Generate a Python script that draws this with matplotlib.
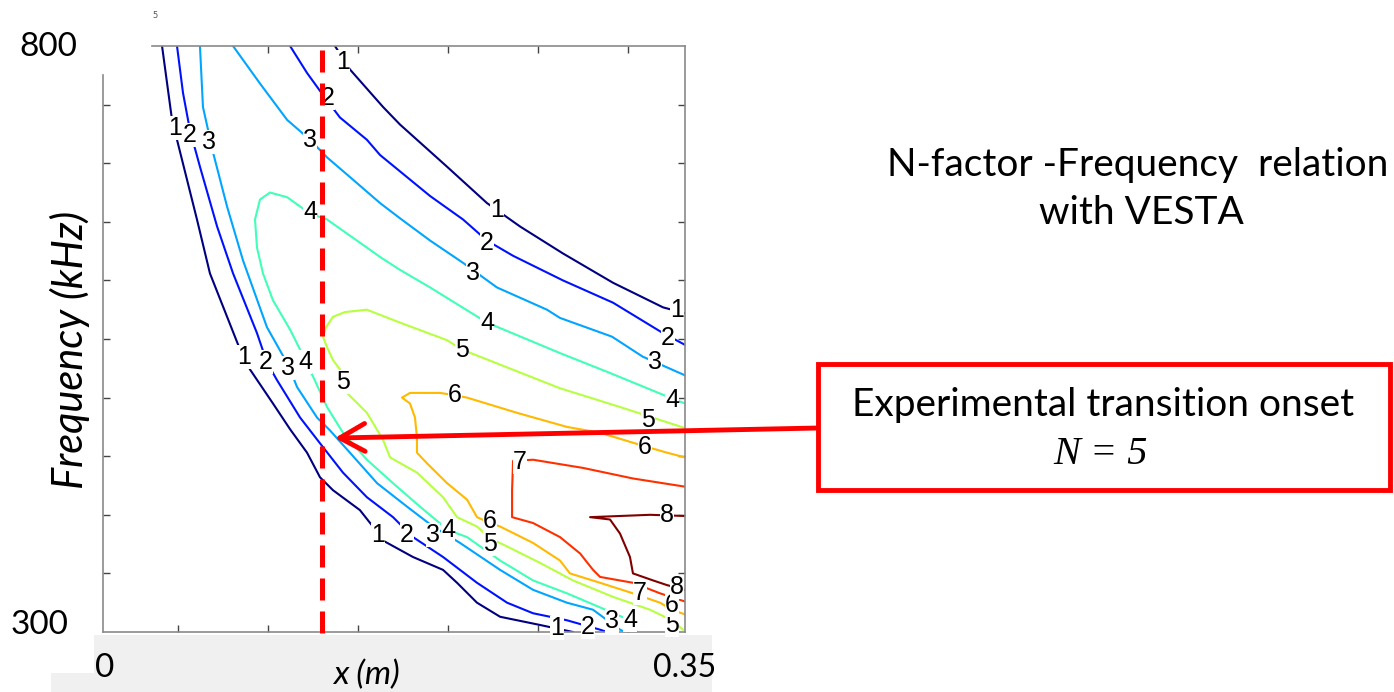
import numpy as np
import matplotlib
matplotlib.use('Agg')
import matplotlib.pyplot as plt
from matplotlib.patches import Rectangle
from matplotlib.colors import Normalize

# N-factor iso-lines: x in m, frequency in kHz
n1_low_x = [0.0355, 0.0415, 0.0565, 0.0643, 0.0824, 0.0884, 0.1022, 0.1125, 0.1227, 0.1305, 0.1383,
            0.1545, 0.1623, 0.1684, 0.1864, 0.2045, 0.2129, 0.2249, 0.2388, 0.2628, 0.2826]
n1_low_f = [800, 737, 652, 606, 541, 524, 495, 473, 453, 432, 421, 404, 390, 378, 364, 353, 342, 325, 313, 306, 300]
n1_up_x = [0.1395, 0.1485, 0.1684, 0.1786, 0.2069, 0.2309, 0.2508, 0.2766, 0.3067, 0.3368, 0.35]
n1_up_f = [800, 780, 748, 733, 697, 666, 646, 623, 598, 577, 572]

n2_low_x = [0.0445, 0.0481, 0.0523, 0.0583, 0.0686, 0.0782, 0.0926, 0.0986, 0.1046, 0.1185, 0.1305,
            0.1443, 0.1587, 0.1744, 0.1864, 0.2045, 0.2249, 0.2430, 0.2586, 0.2790, 0.2989, 0.3031]
n2_low_f = [800, 760, 728, 697, 646, 606, 555, 530, 515, 483, 461, 436, 415, 398, 381, 364, 342, 325, 316, 310, 302, 300]
n2_up_x = [0.1125, 0.1227, 0.1334, 0.1425, 0.1587, 0.1666, 0.1967, 0.2165, 0.2309, 0.2466, 0.2766,
           0.3067, 0.3368, 0.35]
n2_up_f = [800, 777, 756, 739, 720, 707, 672, 652, 634, 621, 600, 581, 555, 545]

n3_low_x = [0.0583, 0.0601, 0.0662, 0.0746, 0.0842, 0.0986, 0.1113, 0.1167, 0.1287, 0.1365, 0.1485,
            0.1648, 0.1828, 0.1985, 0.2147, 0.2388, 0.2586, 0.2790, 0.2947, 0.3109, 0.3140]
n3_low_f = [800, 748, 709, 663, 617, 560, 528, 509, 483, 472, 453, 427, 407, 390, 376, 353, 336, 325, 319, 302, 300]
n3_up_x = [0.0782, 0.0944, 0.1107, 0.1245, 0.1347, 0.1503, 0.1666, 0.1786, 0.1967, 0.2165, 0.2369,
           0.2670, 0.2748, 0.3061, 0.3245, 0.35]
n3_up_f = [800, 768, 737, 720, 705, 686, 666, 653, 634, 615, 594, 575, 568, 552, 535, 519]

n4_x = [0.35, 0.3392, 0.3049, 0.2748, 0.2309, 0.1967, 0.1786, 0.1666, 0.1587, 0.1347, 0.1245, 0.1107,
        0.1004, 0.0944, 0.0914, 0.0926, 0.0962, 0.1022, 0.1125, 0.1185, 0.1215, 0.1263, 0.1347, 0.1443,
        0.1587, 0.1744, 0.1906, 0.2075, 0.2189, 0.2388, 0.2586, 0.2790, 0.2989, 0.3169, 0.3211]
n4_f = [495, 501, 521, 538, 564, 594, 609, 620, 628, 652, 657, 671, 675, 669, 652, 628, 606, 583, 558, 541,
        530, 518, 492, 470, 447, 427, 407, 387, 381, 361, 344, 333, 321, 310, 300]

n5_x = [0.35, 0.3109, 0.2748, 0.2158, 0.2069, 0.1786, 0.1587, 0.1455, 0.1383, 0.1341, 0.1323, 0.1347,
        0.1383, 0.1425, 0.1443, 0.1467, 0.1587, 0.1684, 0.1726, 0.1888, 0.2045, 0.2129, 0.2249, 0.2327,
        0.2430, 0.2628, 0.2826, 0.3067, 0.3290, 0.3420, 0.3488]
n5_f = [474, 492, 508, 541, 549, 564, 575, 573, 569, 560, 552, 543, 532, 524, 513, 504, 487, 464, 449, 436,
        415, 398, 390, 380, 373, 359, 344, 330, 319, 310, 302]

n6_x = [0.35, 0.3392, 0.3269, 0.2989, 0.2790, 0.2490, 0.2189, 0.2117, 0.2027, 0.1846, 0.1798, 0.1846,
        0.1876, 0.1888, 0.1888, 0.1948, 0.2069, 0.2189, 0.2249, 0.2327, 0.2388, 0.2586, 0.2748, 0.2808,
        0.2989, 0.3187, 0.3350, 0.3420, 0.35]
n6_f = [449, 453, 458, 470, 475, 487, 500, 502, 504, 504, 500, 495, 483, 466, 453, 444, 427, 413, 398, 393,
        390, 376, 361, 350, 342, 333, 325, 319, 315]

n7_x = [0.35, 0.3187, 0.2887, 0.2586, 0.2466, 0.2460, 0.2460, 0.2586, 0.2748, 0.2869, 0.2947, 0.2989,
        0.3187, 0.3350, 0.35]
n7_f = [424, 431, 440, 447, 446, 421, 398, 393, 381, 367, 353, 347, 342, 333, 326]

n8_x = [0.35, 0.3290, 0.2929, 0.3049, 0.3109, 0.3169, 0.3187, 0.3308, 0.3392, 0.35]
n8_f = [399, 400, 398, 396, 384, 364, 350, 344, 340, 336]

# inline contour labels
label_n = [1, 1, 1, 1, 1, 1, 1,
           2, 2, 2, 2, 2, 2, 2,
           3, 3, 3, 3, 3, 3, 3,
           4, 4, 4, 4, 4, 4,
           5, 5, 5, 5, 5,
           6, 6, 6, 6,
           7, 7,
           8, 8]
label_x = [0.0433, 0.0848, 0.1654, 0.2730, 0.1443, 0.2369, 0.3452,
           0.0523, 0.0980, 0.1828, 0.2917, 0.1353, 0.2309, 0.3398,
           0.0637, 0.1113, 0.1985, 0.3061, 0.1245, 0.2225, 0.3320,
           0.1215, 0.2075, 0.3169, 0.1245, 0.2309, 0.3422,
           0.1443, 0.2327, 0.3420, 0.2159, 0.3277,
           0.2327, 0.3420, 0.2117, 0.3259,
           0.2508, 0.3229,
           0.3392, 0.3452]
label_f = [730, 535, 383, 303, 786, 660, 575,
           724, 530, 383, 304, 756, 632, 551,
           718, 525, 383, 309, 720, 606, 530,
           530, 387, 310, 658, 564, 498,
           513, 375, 306, 541, 481,
           395, 323, 502, 458,
           445, 333,
           400, 338]

x_ticks = [0.0451, 0.0992, 0.1533, 0.2075, 0.2616, 0.3157]
y_ticks = [350, 400, 450, 500, 550, 600, 650, 700, 750]
x_onset = 0.1317


def main():
    lines = {1: [(n1_low_x, n1_low_f), (n1_up_x, n1_up_f)],
             2: [(n2_low_x, n2_low_f), (n2_up_x, n2_up_f)],
             3: [(n3_low_x, n3_low_f), (n3_up_x, n3_up_f)],
             4: [(n4_x, n4_f)],
             5: [(n5_x, n5_f)],
             6: [(n6_x, n6_f)],
             7: [(n7_x, n7_f)],
             8: [(n8_x, n8_f)]}

    slide_font = 'Lato'
    fig = plt.figure(figsize=(13.94, 6.92), dpi=100)
    ax = fig.add_axes([0.0739, 0.0867, 0.4175, 0.8468])

    norm = Normalize(1, 8)
    for n, branches in lines.items():
        for xs, fs in branches:
            ax.plot(xs, fs, color=plt.cm.jet(norm(n)), linewidth=1.5, zorder=2)

    for n, x, f in zip(label_n, label_x, label_f):
        ax.text(x, f, str(n), fontsize=18, family='Liberation Sans', ha='center', va='center',
                zorder=3, bbox=dict(facecolor='white', edgecolor='none', pad=0.0))

    # experimental onset position
    ax.plot([x_onset, x_onset], [797, 296], color='#ff0000', linewidth=3.6,
            linestyle=(0, (4.4, 2.2)), clip_on=False, zorder=5)

    ax.set_xlim(0, 0.35)
    ax.set_ylim(300, 800)
    ax.set_xticks(x_ticks)
    ax.set_yticks(y_ticks)
    ax.tick_params(direction='in', length=5, width=1, color='#444444',
                   top=True, right=True, labelbottom=False, labelleft=False)
    ax.xaxis.get_major_ticks()[0].tick2line.set_visible(False)
    for s in ax.spines.values():
        s.set_color('#8a8a8a')
        s.set_linewidth(1.2)
    ax.spines['top'].set_bounds(0.0295, 0.35)
    ax.spines['left'].set_bounds(300, 775)

    # gray strip under the axis
    fig.add_artist(Rectangle((94 / 1394, 0), 618 / 1394, 57 / 692, transform=fig.transFigure,
                             facecolor='#f0f0f0', edgecolor='none', zorder=0))
    fig.add_artist(Rectangle((51 / 1394, 0), 44 / 1394, 19 / 692, transform=fig.transFigure,
                             facecolor='#f0f0f0', edgecolor='none', zorder=0))

    fig.text(0.0344, 0.9321, '800', fontsize=24, family=slide_font, ha='center', va='center')
    fig.text(0.0287, 0.0968, '300', fontsize=24, family=slide_font, ha='center', va='center')
    fig.text(0.0753, 0.0347, '0', fontsize=24, family=slide_font, ha='center', va='center')
    fig.text(0.4914, 0.0347, '0.35', fontsize=23, family=slide_font, ha='center', va='center')
    fig.text(0.2626, 0.0246, 'x (m)', fontsize=24, family=slide_font, style='italic',
             ha='center', va='center')
    fig.text(0.0502, 0.4942, 'Frequency (kHz)', fontsize=30, family=slide_font, style='italic',
             rotation=90, ha='center', va='center')
    fig.text(155 / 1394, 1 - 15 / 692, '5', fontsize=6, color='#555555', ha='center', va='center')

    fig.text(0.8164, 0.7616, 'N-factor -Frequency  relation', fontsize=28, family=slide_font,
             ha='center', va='center')
    fig.text(0.8185, 0.6922, 'with VESTA', fontsize=28, family=slide_font, ha='center', va='center')

    fig.add_artist(Rectangle((0.5868, 0.2919), 0.4103, 0.1821, transform=fig.transFigure,
                             facecolor='white', edgecolor='#ff0000', linewidth=3.5, zorder=4))
    fig.text(0.7912, 0.4147, 'Experimental transition onset', fontsize=28, family=slide_font,
             ha='center', va='center', zorder=5)
    fig.text(0.7891, 0.3425, 'N = 5', fontsize=29, family='Liberation Serif', style='italic',
             ha='center', va='center', zorder=5)

    ax.annotate('', xy=(0.1394, 465.5), xycoords='data',
                xytext=(0.5868, 0.3815), textcoords='figure fraction',
                arrowprops=dict(arrowstyle='->,head_length=1.8,head_width=1.0', color='#ff0000',
                                lw=3.5, shrinkA=0, shrinkB=0),
                annotation_clip=False, zorder=6)

    plt.savefig('out.png', dpi=100)
    plt.close()


if __name__ == '__main__':
    main()
